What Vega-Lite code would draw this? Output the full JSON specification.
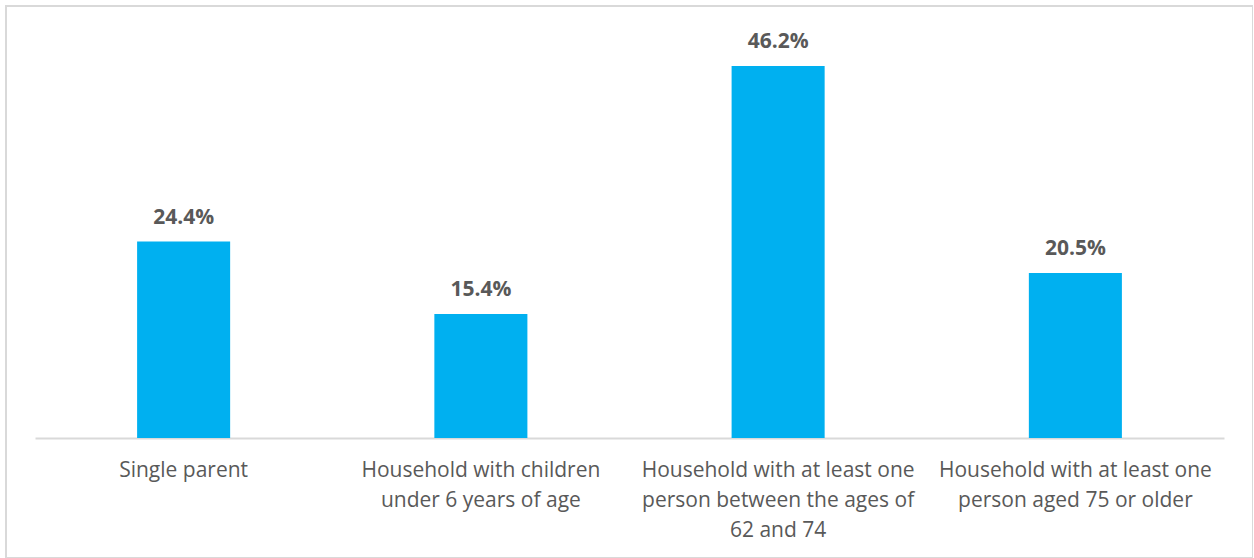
{
  "$schema": "https://vega.github.io/schema/vega-lite/v6.json",
  "autosize": {"type": "none"},
  "padding": {"left": 6, "top": 6, "right": 0, "bottom": 0},
  "width": 1247,
  "height": 552,
  "background": "white",
  "config": {
    "view": {"stroke": "#d9d9d9", "strokeWidth": 2},
    "font": "Open Sans"
  },
  "data": {
    "values": [
      {"category": "Single parent", "value": 0.244},
      {"category": "Household with children under 6 years of age", "value": 0.154},
      {"category": "Household with at least one person between the ages of 62 and 74", "value": 0.462},
      {"category": "Household with at least one person aged 75 or older", "value": 0.205}
    ]
  },
  "encoding": {
    "x": {
      "field": "category",
      "type": "nominal",
      "sort": null,
      "scale": {"range": [29, 1218], "paddingInner": 0.687, "paddingOuter": 0.3435},
      "axis": {
        "title": null,
        "orient": "bottom",
        "offset": -120,
        "labelAngle": 0,
        "ticks": false,
        "tickSize": 0,
        "labelPadding": 21,
        "labelFont": "Open Sans",
        "labelFontSize": 21,
        "labelColor": "#595959",
        "labelLineHeight": 30,
        "labelLimit": 400,
        "domainColor": "#d9d9d9",
        "domainWidth": 2,
        "grid": false,
        "labelExpr": "{'Single parent': ['Single parent'], 'Household with children under 6 years of age': ['Household with children', 'under 6 years of age'], 'Household with at least one person between the ages of 62 and 74': ['Household with at least one', 'person between the ages of', '62 and 74'], 'Household with at least one person aged 75 or older': ['Household with at least one', 'person aged 75 or older']}[datum.label]"
      }
    },
    "y": {
      "field": "value",
      "type": "quantitative",
      "scale": {"domain": [-0.149, 0.5365], "nice": false, "zero": false},
      "axis": null
    }
  },
  "layer": [
    {"mark": {"type": "bar", "color": "#00b0f0"}},
    {
      "mark": {"type": "text", "baseline": "alphabetic", "dy": -18, "fontSize": 21, "fontWeight": "bold", "color": "#595959", "font": "Open Sans"},
      "encoding": {"text": {"field": "value", "type": "quantitative", "format": ".1%"}}
    }
  ]
}
